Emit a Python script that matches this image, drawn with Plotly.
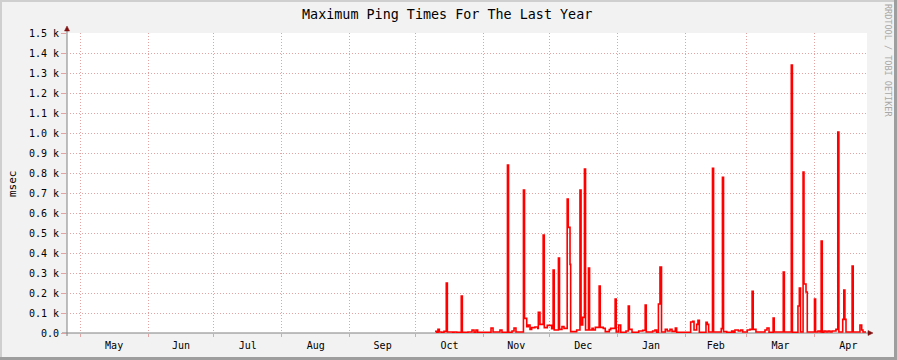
import plotly.graph_objects as go

# ---------------- data ----------------
times = [
    "2010-10-09 22:00", "2010-10-10 16:00", "2010-10-11 06:00", "2010-10-11 21:00",
    "2010-10-12 23:00", "2010-10-14 00:00", "2010-10-15 01:00", "2010-10-15 13:00",
    "2010-10-17 23:00", "2010-10-18 14:00", "2010-10-19 19:00", "2010-10-21 21:00",
    "2010-10-22 09:00", "2010-10-24 23:00", "2010-10-26 19:00", "2010-10-27 17:00",
    "2010-10-28 14:00", "2010-10-29 09:00", "2010-11-04 11:00", "2010-11-05 09:00",
    "2010-11-08 13:00", "2010-11-09 11:00", "2010-11-11 23:00", "2010-11-12 11:00",
    "2010-11-14 01:00", "2010-11-14 23:00", "2010-11-15 20:00", "2010-11-19 06:00",
    "2010-11-19 18:00", "2010-11-20 18:00", "2010-11-21 11:00", "2010-11-22 06:00",
    "2010-11-23 00:00", "2010-11-24 12:00", "2010-11-25 18:00", "2010-11-26 01:00",
    "2010-11-26 19:00", "2010-11-28 06:00", "2010-11-28 18:00", "2010-11-30 03:00",
    "2010-12-02 03:00", "2010-12-02 19:00", "2010-12-03 07:00", "2010-12-05 05:00",
    "2010-12-05 17:00", "2010-12-06 20:00", "2010-12-07 18:00", "2010-12-09 05:00",
    "2010-12-09 17:00", "2010-12-10 12:00", "2010-12-10 19:00", "2010-12-13 13:00",
    "2010-12-15 01:00", "2010-12-15 13:00", "2010-12-16 07:00", "2010-12-17 02:00",
    "2010-12-17 14:00", "2010-12-18 22:00", "2010-12-19 10:00", "2010-12-20 13:00",
    "2010-12-21 03:00", "2010-12-22 01:00", "2010-12-23 19:00", "2010-12-24 07:00",
    "2010-12-25 16:00", "2010-12-26 14:00", "2010-12-28 10:00", "2010-12-29 01:00",
    "2010-12-31 02:00", "2010-12-31 14:00", "2011-01-01 17:00", "2011-01-02 15:00",
    "2011-01-05 01:00", "2011-01-06 02:00", "2011-01-06 14:00", "2011-01-07 19:00",
    "2011-01-10 20:00", "2011-01-12 16:00", "2011-01-13 19:00", "2011-01-14 07:00",
    "2011-01-17 05:00", "2011-01-18 06:00", "2011-01-19 01:00", "2011-01-19 20:00",
    "2011-01-20 13:00", "2011-01-21 06:00", "2011-01-22 23:00", "2011-01-23 21:00",
    "2011-01-25 03:00", "2011-01-26 01:00", "2011-01-27 13:00", "2011-01-28 04:00",
    "2011-02-03 13:00", "2011-02-04 11:00", "2011-02-05 02:00", "2011-02-06 07:00",
    "2011-02-06 21:00", "2011-02-07 12:00", "2011-02-10 13:00", "2011-02-11 03:00",
    "2011-02-11 18:00", "2011-02-13 12:00", "2011-02-14 00:00", "2011-02-17 12:00",
    "2011-02-18 01:00", "2011-02-18 13:00", "2011-02-20 00:00", "2011-02-22 06:00",
    "2011-02-23 00:00", "2011-02-23 18:00", "2011-02-25 07:00", "2011-02-26 09:00",
    "2011-02-27 07:00", "2011-03-01 09:00", "2011-03-02 15:00", "2011-03-03 14:00",
    "2011-03-04 02:00", "2011-03-05 08:00", "2011-03-09 11:00", "2011-03-10 09:00",
    "2011-03-11 07:00", "2011-03-13 04:00", "2011-03-13 16:00", "2011-03-17 19:00",
    "2011-03-18 07:00", "2011-03-21 11:00", "2011-03-21 23:00", "2011-03-24 12:00",
    "2011-03-25 03:00", "2011-03-25 16:00", "2011-03-26 20:00", "2011-03-27 06:00",
    "2011-03-28 04:00", "2011-03-28 18:00", "2011-04-01 01:00", "2011-04-01 13:00",
    "2011-04-02 15:00", "2011-04-03 13:00", "2011-04-04 02:00", "2011-04-04 14:00",
    "2011-04-05 09:00", "2011-04-06 07:00", "2011-04-07 05:00", "2011-04-08 03:00",
    "2011-04-09 01:00", "2011-04-10 20:00", "2011-04-11 16:00", "2011-04-12 04:00",
    "2011-04-13 22:00", "2011-04-14 10:00", "2011-04-14 22:00", "2011-04-15 10:00",
    "2011-04-18 05:00", "2011-04-18 17:00", "2011-04-21 19:00", "2011-04-22 14:00",
    "2011-04-23 04:00", "2011-04-24 13:00",
]
ping_max = [
    8, 3, 18, 5,
    3, 8, 250, 5,
    3, 5, 3, 185,
    3, 5, 15, 4,
    15, 4, 25, 5,
    15, 4, 840, 4,
    10, 25, 5, 715,
    73, 32, 40, 18,
    27, 30, 23, 103,
    43, 490, 27, 38,
    22, 315, 15, 375,
    18, 32, 23, 670,
    528, 343, 7, 15,
    715, 40, 78, 820,
    15, 325, 15, 23,
    15, 28, 235, 28,
    23, 7, 17, 23,
    170, 5, 40, 3,
    10, 135, 18, 3,
    10, 13, 140, 5,
    10, 15, 3, 145,
    330, 5, 18, 10,
    18, 8, 25, 3,
    55, 58, 15, 43,
    63, 3, 53, 43,
    5, 823, 5, 22,
    778, 7, 3, 10,
    3, 15, 10, 15,
    5, 15, 18, 208,
    18, 5, 15, 25,
    3, 75, 5, 305,
    5, 1340, 4, 135,
    225, 5, 805, 245,
    205, 5, 170, 5,
    10, 5, 460, 4,
    10, 5, 10, 5,
    10, 18, 1005, 5,
    68, 215, 68, 5,
    335, 5, 40, 15,
    5, 5,
]
y_tickvals = [0, 100, 200, 300, 400, 500, 600, 700, 800, 900, 1000, 1100, 1200, 1300, 1400, 1500]
y_ticktext = ["0.0", "0.1 k", "0.2 k", "0.3 k", "0.4 k", "0.5 k", "0.6 k", "0.7 k",
              "0.8 k", "0.9 k", "1.0 k", "1.1 k", "1.2 k", "1.3 k", "1.4 k", "1.5 k"]
x_range = ["2010-04-25", "2011-04-25"]

# ---------------- layout helpers ----------------
W, H = 897, 360
L, R, T, B = 67, 30, 33, 27
PW, PH = W - L - R, H - T - B
MONO = "DejaVu Sans Mono"
GRID = "#e3a3a3"


def px(x):
    return (x - L) / PW


def py(y):
    return (H - B - y) / PH


fig = go.Figure()
fig.add_trace(go.Scatter(
    x=times, y=ping_max, mode="lines",
    line=dict(color="#ff0000", width=1.6, shape="hv"),
    hoverinfo="x+y", showlegend=False,
))

shapes = [
    # frame shading
    dict(type="rect", xref="paper", yref="paper", x0=px(0), x1=px(W), y0=py(0), y1=py(2),
         fillcolor="#cfcfcf", line=dict(width=0), layer="above"),
    dict(type="rect", xref="paper", yref="paper", x0=px(0), x1=px(2), y0=py(0), y1=py(H),
         fillcolor="#cfcfcf", line=dict(width=0), layer="above"),
    dict(type="rect", xref="paper", yref="paper", x0=px(W - 3), x1=px(W), y0=py(0), y1=py(H),
         fillcolor="#9e9e9e", line=dict(width=0), layer="above"),
    dict(type="rect", xref="paper", yref="paper", x0=px(0), x1=px(W), y0=py(H - 3), y1=py(H),
         fillcolor="#9e9e9e", line=dict(width=0), layer="above"),
    # axes
    dict(type="line", xref="paper", yref="paper", x0=px(62), x1=px(869), y0=0, y1=0,
         line=dict(color="#808080", width=1), layer="below"),
    dict(type="line", xref="paper", yref="paper", x0=0, x1=0, y0=py(336), y1=py(30),
         line=dict(color="#808080", width=1), layer="below"),
    # arrow heads
    dict(type="path", xref="paper", yref="paper",
         path=f"M {px(64.5)} {py(31)} L {px(69.5)} {py(31)} L {px(67)} {py(26)} Z",
         fillcolor="#801010", line=dict(color="#801010", width=0.5), layer="above"),
    dict(type="path", xref="paper", yref="paper",
         path=f"M {px(868)} {py(330.5)} L {px(868)} {py(335.5)} L {px(873)} {py(333)} Z",
         fillcolor="#801010", line=dict(color="#801010", width=0.5), layer="above"),
]

annotations = [
    dict(text="msec", xref="paper", yref="paper", x=px(12), y=py(183), showarrow=False,
         textangle=-90, font=dict(family=MONO, size=11, color="#000000"),
         xanchor="center", yanchor="middle"),
    dict(text="RRDTOOL / TOBI OETIKER", xref="paper", yref="paper", x=px(888), y=py(60),
         showarrow=False, textangle=90, font=dict(family=MONO, size=8.5, color="#a8a8a8"),
         xanchor="center", yanchor="middle"),
]

fig.update_layout(
    width=W, height=H,
    margin=dict(l=L, r=R, t=T, b=B, pad=0, autoexpand=False),
    paper_bgcolor="#f2f2f2",
    plot_bgcolor="#ffffff",
    title=dict(text="Maximum Ping Times For The Last Year", x=0.4985, xref="container",
               y=1 - 14 / H, yref="container", xanchor="center", yanchor="middle",
               font=dict(family=MONO, size=13.4, color="#000000")),
    xaxis=dict(
        type="date", range=x_range, dtick="M1", tick0="2010-05-01",
        tickformat="%b", ticklabelmode="period",
        showgrid=True, gridcolor=GRID, griddash="1px,2px", gridwidth=1,
        ticks="outside", ticklen=3, tickcolor=GRID,
        showline=False, zeroline=False, automargin=False,
        tickfont=dict(family=MONO, size=10, color="#000000"),
        fixedrange=True,
    ),
    yaxis=dict(
        range=[0, 1500], tickvals=y_tickvals, ticktext=y_ticktext,
        showgrid=True, gridcolor=GRID, griddash="1px,2px", gridwidth=1,
        ticks="outside", ticklen=5, tickcolor=GRID,
        showline=False, zeroline=False, automargin=False,
        tickfont=dict(family=MONO, size=10, color="#000000"),
        fixedrange=True,
    ),
    shapes=shapes,
    annotations=annotations,
)

fig.write_html("out.html")
